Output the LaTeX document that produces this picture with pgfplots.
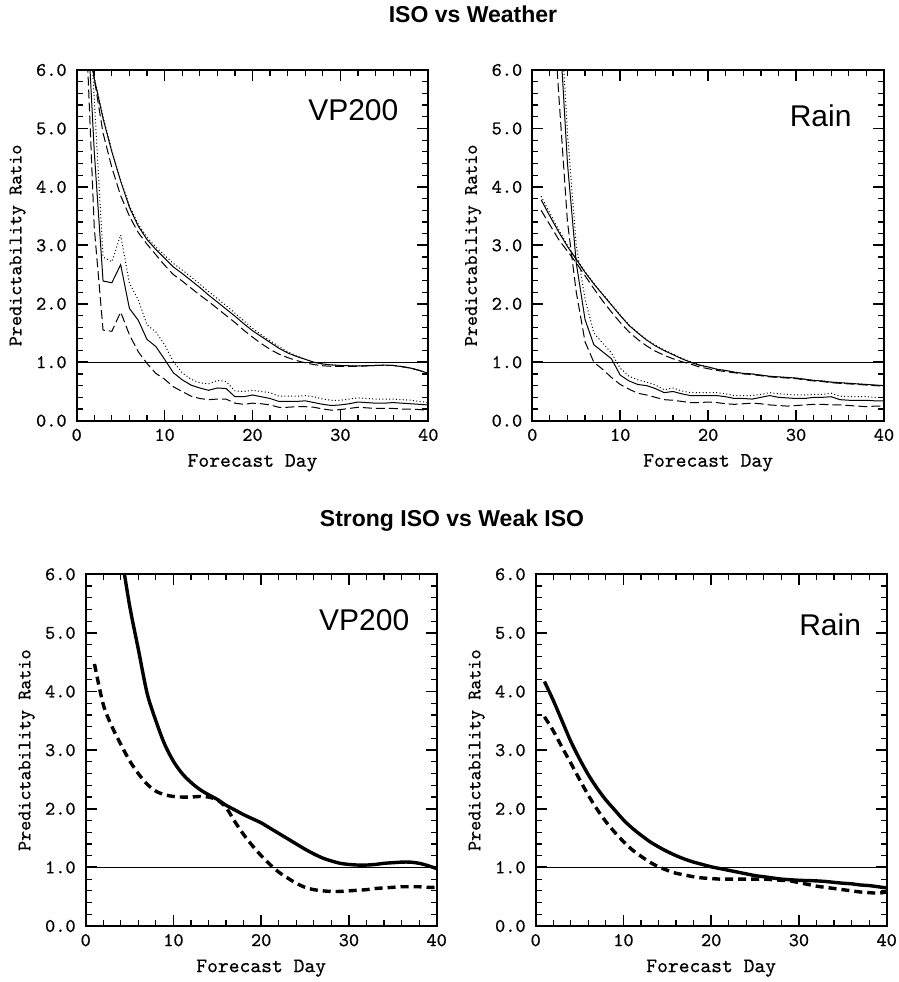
\documentclass[border=0pt]{standalone}
\usepackage{fontspec}
\usepackage{pgfplots}
\usepackage{pgfplotstable}
\pgfplotsset{compat=1.18}
\newfontfamily\hel{Liberation Sans}
\newfontfamily\tyb{lmmono10-regular.otf}[FakeBold=0.6]

% top-left: VP200, ISO vs Weather
% day, upper solid, upper dotted, upper dashed, lower solid, lower dotted, lower dashed
\pgfplotstableread{
day us ud ua ls ld la
1 6.8 6.8 6.9 7.5 8.3 7.0
2 5.85 5.87 5.85 4.6 5.5 3.3
3 5.17 5.2 4.92 2.39 2.8 1.55
4 4.6 4.62 4.33 2.36 2.72 1.53
5 4.1 4.12 3.85 2.67 3.18 1.86
6 3.65 3.68 3.5 1.92 2.35 1.47
7 3.33 3.36 3.22 1.72 2.07 1.18
8 3.1 3.14 3.02 1.39 1.64 0.98
9 2.93 2.97 2.84 1.27 1.52 0.81
10 2.78 2.83 2.66 1.05 1.3 0.71
11 2.63 2.69 2.5 0.82 1.01 0.58
12 2.52 2.58 2.39 0.70 0.82 0.50
13 2.4 2.46 2.27 0.61 0.71 0.42
14 2.28 2.34 2.15 0.56 0.65 0.38
15 2.15 2.21 2.04 0.52 0.63 0.36
16 2.03 2.09 1.92 0.56 0.69 0.37
17 1.91 1.97 1.8 0.55 0.67 0.37
18 1.79 1.84 1.68 0.41 0.51 0.30
19 1.66 1.71 1.55 0.41 0.50 0.28
20 1.54 1.58 1.43 0.44 0.52 0.30
21 1.44 1.47 1.32 0.41 0.50 0.29
22 1.34 1.37 1.22 0.38 0.48 0.27
23 1.24 1.27 1.14 0.33 0.42 0.23
24 1.16 1.18 1.08 0.33 0.42 0.23
25 1.1 1.11 1.03 0.33 0.42 0.24
26 1.05 1.05 0.99 0.34 0.43 0.24
27 1.0 1.0 0.96 0.31 0.41 0.23
28 0.97 0.97 0.94 0.28 0.37 0.20
29 0.955 0.955 0.93 0.26 0.35 0.18
30 0.945 0.945 0.93 0.27 0.35 0.19
31 0.94 0.94 0.93 0.29 0.37 0.21
32 0.94 0.94 0.93 0.32 0.39 0.23
33 0.94 0.94 0.94 0.31 0.38 0.22
34 0.945 0.945 0.945 0.30 0.37 0.21
35 0.95 0.95 0.95 0.30 0.37 0.21
36 0.945 0.945 0.945 0.31 0.37 0.21
37 0.925 0.925 0.925 0.30 0.36 0.20
38 0.9 0.9 0.9 0.29 0.35 0.20
39 0.86 0.86 0.86 0.28 0.33 0.19
40 0.81 0.81 0.8 0.27 0.31 0.18
}\tl

% top-right: Rain, ISO vs Weather
\pgfplotstableread{
day us ud ua ls ld la
1 3.78 3.84 3.6 nan nan nan
2 3.5 3.55 3.35 nan nan 8.0
3 3.23 3.27 3.1 7.0 7.5 5.6
4 2.98 3.0 2.9 4.4 4.93 3.4
5 2.76 2.77 2.7 2.7 3.0 2.2
6 2.54 2.55 2.48 1.73 2.08 1.35
7 2.34 2.35 2.26 1.3 1.5 1.0
8 2.16 2.17 2.05 1.18 1.33 0.88
9 1.98 1.99 1.86 1.06 1.16 0.74
10 1.8 1.81 1.68 0.78 0.9 0.62
11 1.63 1.64 1.52 0.68 0.76 0.54
12 1.5 1.51 1.39 0.62 0.7 0.47
13 1.38 1.39 1.28 0.6 0.66 0.44
14 1.28 1.29 1.19 0.55 0.61 0.40
15 1.2 1.21 1.12 0.48 0.53 0.36
16 1.13 1.14 1.06 0.5 0.56 0.35
17 1.06 1.07 1.01 0.46 0.51 0.33
18 1.0 1.01 0.97 0.43 0.48 0.31
19 0.95 0.96 0.92 0.43 0.48 0.31
20 0.92 0.92 0.89 0.43 0.48 0.32
21 0.88 0.88 0.86 0.43 0.48 0.31
22 0.86 0.86 0.84 0.41 0.46 0.29
23 0.83 0.83 0.82 0.38 0.43 0.28
24 0.81 0.81 0.8 0.38 0.43 0.29
25 0.8 0.8 0.79 0.37 0.43 0.30
26 0.78 0.78 0.77 0.40 0.45 0.29
27 0.76 0.76 0.75 0.43 0.48 0.27
28 0.75 0.75 0.74 0.40 0.46 0.26
29 0.74 0.74 0.73 0.39 0.45 0.25
30 0.73 0.73 0.72 0.38 0.44 0.26
31 0.71 0.71 0.70 0.38 0.44 0.27
32 0.69 0.69 0.68 0.40 0.45 0.28
33 0.68 0.68 0.67 0.40 0.45 0.28
34 0.66 0.66 0.65 0.41 0.47 0.27
35 0.65 0.65 0.64 0.36 0.42 0.27
36 0.64 0.64 0.63 0.35 0.41 0.26
37 0.63 0.63 0.62 0.35 0.41 0.25
38 0.62 0.62 0.61 0.35 0.41 0.24
39 0.61 0.61 0.60 0.34 0.40 0.25
40 0.60 0.60 0.59 0.34 0.40 0.25
}\tr

% bottom-left: VP200, strong ISO (s) vs weak ISO (w)
\pgfplotstableread{
day s w
1 nan 4.47
2 nan 3.78
3 nan 3.4
4 6.4 3.1
5 5.47 2.82
6 4.72 2.6
7 3.97 2.42
8 3.5 2.3
9 3.1 2.24
10 2.81 2.21
11 2.6 2.2
12 2.45 2.2
13 2.33 2.21
14 2.24 2.2
15 2.16 2.15
16 2.06 2.02
17 1.98 1.78
18 1.9 1.56
19 1.83 1.37
20 1.76 1.2
21 1.67 1.05
22 1.58 0.92
23 1.49 0.82
24 1.4 0.73
25 1.31 0.66
26 1.23 0.62
27 1.16 0.6
28 1.11 0.59
29 1.07 0.59
30 1.05 0.6
31 1.04 0.61
32 1.04 0.62
33 1.05 0.64
34 1.07 0.65
35 1.08 0.66
36 1.09 0.67
37 1.09 0.67
38 1.07 0.67
39 1.03 0.66
40 0.98 0.66
}\bl

% bottom-right: Rain, strong ISO (s) vs weak ISO (w)
\pgfplotstableread{
day s w
1 4.17 3.57
2 3.85 3.33
3 3.5 3.05
4 3.15 2.78
5 2.85 2.5
6 2.58 2.23
7 2.35 1.99
8 2.15 1.78
9 1.98 1.6
10 1.81 1.44
11 1.67 1.3
12 1.55 1.19
13 1.44 1.09
14 1.35 1.01
15 1.27 0.95
16 1.2 0.9
17 1.14 0.87
18 1.09 0.84
19 1.05 0.82
20 1.01 0.81
21 0.98 0.8
22 0.95 0.8
23 0.92 0.8
24 0.89 0.8
25 0.86 0.8
26 0.84 0.8
27 0.82 0.79
28 0.8 0.78
29 0.79 0.77
30 0.78 0.74
31 0.775 0.71
32 0.77 0.68
33 0.76 0.66
34 0.745 0.64
35 0.73 0.62
36 0.72 0.6
37 0.70 0.58
38 0.69 0.57
39 0.67 0.56
40 0.65 0.58
}\br

\pgfplotsset{
  prstyle/.style={
    scale only axis,
    xmin=0,xmax=40,ymin=0,ymax=6,
    xtick={0,10,20,30,40},
    xticklabels={0,10,20,30,40},
    ytick={0,1,2,3,4,5,6},
    yticklabels={0.0,1.0,2.0,3.0,4.0,5.0,6.0},
    minor x tick num=4, minor y tick num=4,
    major tick length=5.5pt, minor tick length=3pt,
    every tick/.style={black, line width=0.9pt},
    every minor tick/.style={black, line width=0.6pt},
    axis line style={line width=0.9pt},
    tick label style={font=\tyb\fontsize{9.7}{11}\selectfont},
    yticklabel style={xshift=-1.5pt},
    xticklabel style={yshift=-0.5pt},
    xlabel={Forecast Day}, ylabel={Predictability Ratio},
    xlabel style={font=\tyb\fontsize{10.3}{12}\selectfont, at={(axis description cs:0.5,-0.12)}, anchor=center},
    ylabel style={font=\tyb\fontsize{9.6}{11}\selectfont, at={(axis description cs:-0.168,0.5)}, anchor=center},
    clip=true,
  },
  thinsolid/.style={black, line width=0.5pt},
  thindot/.style={black, line width=0.5pt, dash pattern=on 0.5pt off 1.2pt},
  thindash/.style={black, line width=0.5pt, dash pattern=on 4.5pt off 2pt},
  thicksolid/.style={black, line width=1.7pt, smooth},
  thickdash/.style={black, line width=1.7pt, smooth, dash pattern=on 4pt off 2.5pt},
}

\begin{document}
\begin{tikzpicture}
\useasboundingbox (0,0) rectangle (449.5pt,-491pt);

\node[anchor=base, font=\hel\bfseries\fontsize{11.5}{14}\selectfont] at (236.5pt,-11.35pt) {ISO vs Weather};
\node[anchor=base, font=\hel\bfseries\fontsize{11.5}{14}\selectfont] at (226pt,-263pt) {Strong ISO vs Weak ISO};

% top-left
\begin{axis}[prstyle, at={(38.35pt,-210.35pt)}, anchor=south west, width=175.8pt, height=175.35pt]
\addplot[thinsolid] coordinates {(0,1) (40,1)};
\addplot[thinsolid] table[x=day,y=us] {\tl};
\addplot[thindot] table[x=day,y=ud] {\tl};
\addplot[thindash] table[x=day,y=ua] {\tl};
\addplot[thinsolid] table[x=day,y=ls] {\tl};
\addplot[thindot] table[x=day,y=ld] {\tl};
\addplot[thindash] table[x=day,y=la] {\tl};
\node[font=\hel\fontsize{15}{18}\selectfont] at (axis cs:31.47,5.32) {VP200};
\end{axis}

% top-right
\begin{axis}[prstyle, at={(266.15pt,-210.35pt)}, anchor=south west, width=175.85pt, height=175.35pt]
\addplot[thinsolid] coordinates {(0,1) (40,1)};
\addplot[thinsolid] table[x=day,y=us] {\tr};
\addplot[thindot] table[x=day,y=ud] {\tr};
\addplot[thindash] table[x=day,y=ua] {\tr};
\addplot[thinsolid] table[x=day,y=ls] {\tr};
\addplot[thindot] table[x=day,y=ld] {\tr};
\addplot[thindash] table[x=day,y=la] {\tr};
\node[font=\hel\fontsize{15}{18}\selectfont] at (axis cs:32.79,5.21) {Rain};
\end{axis}

% bottom-left
\begin{axis}[prstyle, at={(42.85pt,-463pt)}, anchor=south west, width=175.5pt, height=175.85pt]
\addplot[thinsolid] coordinates {(0,1) (40,1)};
\addplot[thicksolid] table[x=day,y=s] {\bl};
\addplot[thickdash] table[x=day,y=w] {\bl};
\node[font=\hel\fontsize{15}{18}\selectfont] at (axis cs:31.74,5.21) {VP200};
\end{axis}

% bottom-right
\begin{axis}[prstyle, at={(267.85pt,-463pt)}, anchor=south west, width=175.5pt, height=175.85pt]
\addplot[thinsolid] coordinates {(0,1) (40,1)};
\addplot[thicksolid] table[x=day,y=s] {\br};
\addplot[thickdash] table[x=day,y=w] {\br};
\node[font=\hel\fontsize{15}{18}\selectfont] at (axis cs:33.56,5.14) {Rain};
\end{axis}
\end{tikzpicture}
\end{document}
